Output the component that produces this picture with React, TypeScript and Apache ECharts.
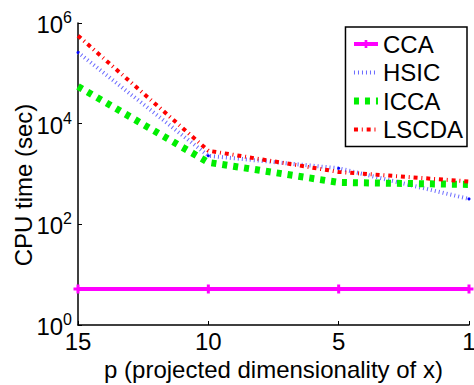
import React, { useEffect, useRef } from 'react';
import * as echarts from 'echarts';

const categories = ['15', '10', '5', '1'];
const ccaValues = [5.2, 5.2, 5.2, 5.2];
const hsicValues = [2.6e5, 2.3e3, 1.3e3, 320];
const iccaValues = [5.5e4, 1.7e3, 680, 620];
const lscdaValues = [5.6e5, 2.9e3, 1.1e3, 710];

const FONT = '"Liberation Sans", Arial, Helvetica, sans-serif';
const PLUS = 'path://M3,0h3v3h3v3h-3v3h-3v-3h-3v-3h3z';

export default function App() {
  const ref = useRef<HTMLDivElement>(null);
  useEffect(() => {
    if (!ref.current) return;
    const chart = echarts.init(ref.current, null, { renderer: 'svg' });
    chart.setOption({
      animation: false,
      backgroundColor: '#ffffff',
      textStyle: { fontFamily: FONT },
      grid: { left: 78, right: 5, top: 23, bottom: 60, containLabel: false, outerBoundsMode: 'none' },
      graphic: [
        {
          type: 'text',
          x: 23,
          y: 185,
          rotation: Math.PI / 2,
          style: {
            text: 'CPU time (sec)',
            fontSize: 24,
            fontFamily: FONT,
            fill: '#000',
            align: 'center',
            verticalAlign: 'middle',
          },
        },
      ],
      legend: {
        right: 7,
        top: 27,
        orient: 'vertical',
        padding: [5, 4, 5, 5],
        borderColor: '#000',
        borderWidth: 1.5,
        backgroundColor: '#fff',
        itemGap: 4.5,
        itemWidth: 24,
        itemHeight: 10,
        itemTextGap: 3,
        lineStyle: { width: 'inherit' },
        textStyle: { fontSize: 24, lineHeight: 24, color: '#000', fontFamily: FONT },
        data: [
          { name: 'CCA' },
          { name: 'HSIC', itemStyle: { opacity: 0 } },
          { name: 'ICCA', itemStyle: { opacity: 0 } },
          { name: 'LSCDA', itemStyle: { opacity: 0 } },
        ],
      },
      xAxis: {
        type: 'category',
        data: categories,
        boundaryGap: false,
        name: 'p (projected dimensionality of x)',
        nameLocation: 'middle',
        nameGap: 28,
        nameTextStyle: { fontSize: 24, color: '#000', fontFamily: FONT },
        axisLine: { lineStyle: { color: '#000', width: 1.5 } },
        axisTick: { inside: true, length: 4, lineStyle: { color: '#000', width: 1 } },
        axisLabel: { fontSize: 24, color: '#000', margin: 4, fontFamily: FONT },
        splitLine: { show: false },
      },
      yAxis: {
        type: 'log',
        logBase: 100,
        min: 1,
        max: 1e6,
        axisLine: { show: true, lineStyle: { color: '#000', width: 1.5 } },
        axisTick: { show: true, inside: true, length: 4, lineStyle: { color: '#000', width: 1 } },
        axisLabel: {
          margin: 6,
          color: '#000',
          formatter: (v: number) => `{b|10}{s|${Math.round(Math.log10(v))}}`,
          rich: {
            b: { fontSize: 24, fontFamily: FONT, color: '#000', verticalAlign: 'bottom', padding: [3, 0, 0, 0] },
            s: { fontSize: 16, fontFamily: FONT, color: '#000', verticalAlign: 'top' },
          },
        },
        splitLine: { show: false },
        minorTick: { show: false },
      },
      series: [
        {
          name: 'CCA',
          type: 'line',
          data: ccaValues,
          color: '#ff00ff',
          symbol: PLUS,
          symbolSize: 9,
          lineStyle: { color: '#ff00ff', width: 4 },
          itemStyle: { color: '#ff00ff' },
        },
        {
          name: 'HSIC',
          type: 'line',
          data: hsicValues,
          color: '#0000ff',
          symbol: 'circle',
          symbolSize: 3,
          lineStyle: { color: '#6a6aff', width: 4, type: [1, 3] },
          itemStyle: { color: '#0000ff' },
        },
        {
          name: 'ICCA',
          type: 'line',
          data: iccaValues,
          color: '#00ee00',
          symbol: 'none',
          lineStyle: { color: '#00ee00', width: 7, type: [5, 6] },
        },
        {
          name: 'LSCDA',
          type: 'line',
          data: lscdaValues,
          color: '#ff0000',
          symbol: 'none',
          lineStyle: { color: '#ff0000', width: 4, type: [4, 3.8, 1, 3.9] },
        },
      ],
    });
    return () => chart.dispose();
  }, []);
  return <div ref={ref} style={{ width: 474, height: 385, position: 'absolute', left: 0, top: 0 }} />;
}
